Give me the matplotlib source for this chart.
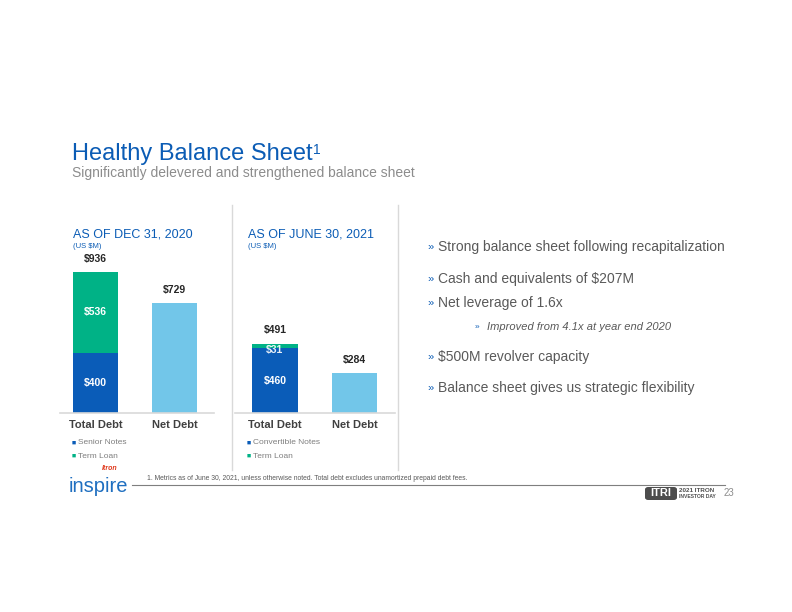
import matplotlib.pyplot as plt
from matplotlib.patches import FancyBboxPatch

plt.rcParams['font.family'] = ['Liberation Sans', 'DejaVu Sans']

W, H = 792, 612

categories = ["Total Debt", "Net Debt"]
dec_legend = ["Senior Notes", "Term Loan"]
jun_legend = ["Convertible Notes", "Term Loan"]

dec_notes = 400
dec_term = 536
dec_net = 729
jun_notes = 460
jun_term = 31
jun_net = 284

bullets = [
    "Strong balance sheet following recapitalization",
    "Cash and equivalents of $207M",
    "Net leverage of 1.6x",
    "$500M revolver capacity",
    "Balance sheet gives us strategic flexibility",
]
sub_bullet = "Improved from 4.1x at year end 2020"

BLUE = "#0a5cb8"
GREEN = "#00b286"
LIGHT = "#72c6e9"
TITLE = "#0b5cb5"
GRAY = "#7f7f7f"
DARK = "#404040"


def fx(x):
    return x / W


def fy(y):
    return 1 - y / H


def draw_panel(fig, left, width, scale, xlim, notes, term, net, heading, legend):
    ax = fig.add_axes([fx(left), fy(413), fx(width), 1000 * scale / H])
    ax.set_xlim(*xlim)
    ax.set_ylim(0, 1000)
    ax.bar(0, notes, width=0.57, color=BLUE)
    ax.bar(0, term, bottom=notes, width=0.57, color=GREEN)
    ax.bar(1, net, width=0.57, color=LIGHT)
    for s in ["top", "right", "left"]:
        ax.spines[s].set_visible(False)
    ax.spines["bottom"].set_color("#d9d9d9")
    ax.spines["bottom"].set_linewidth(1.2)
    ax.set_yticks([])
    ax.set_xticks([0, 1])
    ax.set_xticklabels(categories, fontsize=8, fontweight="bold", color=DARK)
    ax.tick_params(axis="x", length=0, pad=5)

    total = notes + term
    lab = dict(ha="center", fontsize=7.5, fontweight="bold")
    ax.annotate(f"${total}", (0, total), xytext=(0, 6), textcoords="offset points",
                va="bottom", color="#262626", **lab)
    ax.annotate(f"${net}", (1, net), xytext=(0, 6), textcoords="offset points",
                va="bottom", color="#262626", **lab)
    ax.text(0, notes / 2, f"${notes}", va="center", color="white", **lab)
    if term > 100:
        ax.text(0, notes + term / 2, f"${term}", va="center", color="white", **lab)
    else:
        ax.annotate(f"${term}", (0, notes + term), xytext=(0, -1), textcoords="offset points",
                    va="top", color="white", alpha=0.9, **lab)

    fig.text(fx(left + 13), fy(238), heading, fontsize=9, color=TITLE)
    fig.text(fx(left + 13), fy(248), "(US $M)", fontsize=5.5, color=TITLE)
    for i, (name, c) in enumerate(zip(legend, [BLUE, GREEN])):
        y = 443 + i * 13
        fig.text(fx(left + 12), fy(y), "\u25a0", fontsize=5, color=c, va="center")
        fig.text(fx(left + 18), fy(y), name, fontsize=6, color=GRAY, va="center")
    return ax


fig = plt.figure(figsize=(W / 100, H / 100), dpi=100)

fig.text(fx(72), fy(160), "Healthy Balance Sheet", fontsize=17, color=TITLE)
fig.text(fx(313), fy(154), "1", fontsize=10, color=TITLE)
fig.text(fx(72), fy(177), "Significantly delevered and strengthened balance sheet",
         fontsize=10, color="#8c8c8c")

draw_panel(fig, 60, 154, 0.1506, (-0.449, 1.5), dec_notes, dec_term, dec_net,
           "AS OF DEC 31, 2020", dec_legend)
draw_panel(fig, 235, 160, 0.1413, (-0.5, 1.506), jun_notes, jun_term, jun_net,
           "AS OF JUNE 30, 2021", jun_legend)

# panel separators
for x in [232, 398]:
    fig.add_artist(plt.Line2D([fx(x), fx(x)], [fy(205), fy(470)], color="#d9d9d9", lw=1))

# bullets
ys = [247, 279, 303, 357, 388]
for y, t in zip(ys, bullets):
    fig.text(fx(427), fy(y), "\u00bb", fontsize=8, color=TITLE, va="center")
    fig.text(fx(438), fy(y), t, fontsize=10, color="#595959", va="center")
fig.text(fx(475), fy(327), "\u00bb", fontsize=6, color=TITLE, va="center")
fig.text(fx(487), fy(327), sub_bullet, fontsize=8, color="#595959", va="center", style="italic")

# footer
fig.add_artist(plt.Line2D([fx(132), fx(725)], [fy(485), fy(485)], color="#7f7f7f", lw=0.8))
fig.text(fx(147), fy(478),
         "1. Metrics as of June 30, 2021, unless otherwise noted. Total debt excludes unamortized prepaid debt fees.",
         fontsize=4.9, color="#595959", va="center")
fig.text(fx(110), fy(469), "Itron", fontsize=5, color="#e03a1e", fontweight="bold",
         style="italic", ha="center", va="center")
fig.text(fx(98), fy(487), "inspire", fontsize=14.5, color="#1f6fc0", ha="center", va="center")
fig.patches.append(FancyBboxPatch((fx(645), fy(500)), fx(32), 13 / H,
                                  boxstyle="round,pad=0.0,rounding_size=0.004",
                                  transform=fig.transFigure, fc="#4d4d4d", ec="none"))
fig.text(fx(661), fy(493.5), "ITRI", fontsize=8, color="white", fontweight="bold",
         ha="center", va="center")
fig.text(fx(679), fy(490), "2021 ITRON", fontsize=4.5, color="#4d4d4d", fontweight="bold", va="center")
fig.text(fx(679), fy(496), "INVESTOR DAY", fontsize=3.6, color="#4d4d4d", fontweight="bold", va="center")
fig.text(fx(724), fy(493), "23", fontsize=7, color="#8c8c8c", va="center")

fig.savefig("out.png", dpi=100)
